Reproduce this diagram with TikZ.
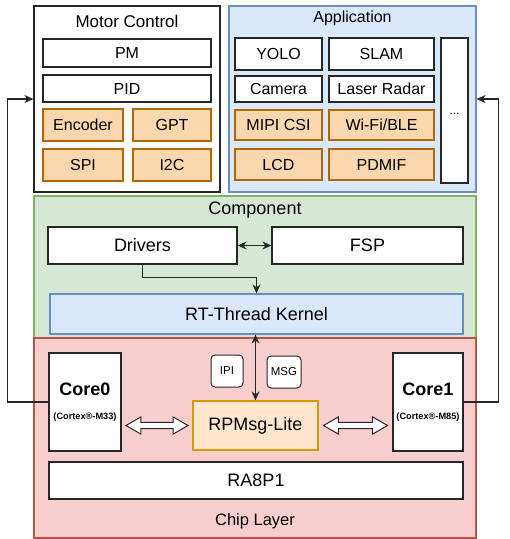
\documentclass[tikz,border=0pt]{standalone}
\usepackage{fontspec}
\setmainfont{Liberation Sans}
\usetikzlibrary{shapes.arrows,calc,arrows.meta}
\definecolor{orfill}{HTML}{FAD7AC}
\definecolor{ordraw}{HTML}{B46504}
\definecolor{lofill}{HTML}{FFE6CC}
\definecolor{lodraw}{HTML}{D79B00}
\definecolor{blfill}{HTML}{DAE8FC}
\definecolor{bldraw}{HTML}{6C8EBF}
\definecolor{grfill}{HTML}{D5E8D4}
\definecolor{grdraw}{HTML}{82B366}
\definecolor{rdfill}{HTML}{F8CECC}
\definecolor{rddraw}{HTML}{B85450}
\begin{document}
\begin{tikzpicture}[x=1pt,y=-1pt,
  base/.style={draw, line width=1.2pt, inner sep=0pt, align=center},
  wbox/.style={base, fill=white, draw=black!85, font=\fontsize{16}{19}\selectfont},
  obox/.style={base, fill=orfill, draw=ordraw, font=\fontsize{16}{19}\selectfont},
  wbig/.style={wbox, font=\fontsize{18}{21}\selectfont},
  outerw/.style={base, fill=white, draw=black!85},
  outerb/.style={base, fill=blfill, draw=bldraw},
  outerg/.style={base, fill=grfill, draw=grdraw},
  outerr/.style={base, fill=rdfill, draw=rddraw},
  kbox/.style={base, fill=blfill, draw=bldraw, font=\fontsize{18}{21}\selectfont},
  rpbox/.style={base, fill=lofill, draw=lodraw, font=\fontsize{18}{21}\selectfont},
  tagbox/.style={base, fill=white, draw=black!85, rounded corners=4pt, line width=1pt, font=\fontsize{11.5}{13}\selectfont},
  title/.style={inner sep=0pt, font=\fontsize{17}{20}\selectfont},
  conn/.style={line width=1.1pt, draw=black!85},
  tip/.style={-{Stealth[length=9pt,width=8pt]}},
  tips/.style={{Stealth[length=9pt,width=8pt]}-{Stealth[length=9pt,width=8pt]}},
  harrow/.style={double arrow, draw=black!85, fill=white, line width=1pt, inner sep=2.6pt,
    minimum width=16pt, double arrow tip angle=60, double arrow head extend=5.5pt},
]
\useasboundingbox (0,0) rectangle (510,539);

% ---- Motor Control ----
\node[outerw, minimum width=186, minimum height=186] (motor) at (127,99) {};
\node[title] (motortitle) at (127,21) {Motor Control};
\node[wbox, minimum width=168, minimum height=28] (pm) at (127,53) {PM};
\node[wbox, minimum width=168, minimum height=27] (pid) at (127,88.5) {PID};
\node[obox, minimum width=80, minimum height=32] (enc) at (83,125) {Encoder};
\node[obox, minimum width=78, minimum height=32] (gpt) at (172,125) {GPT};
\node[obox, minimum width=80, minimum height=32] (spi) at (83,165) {SPI};
\node[obox, minimum width=78, minimum height=32] (i2c) at (172,165) {I2C};

% ---- Application ----
\node[outerb, minimum width=247, minimum height=186] (app) at (352.5,99) {};
\node[title, font=\fontsize{16}{19}\selectfont] (apptitle) at (352.5,18) {Application};
\node[wbox, minimum width=87, minimum height=32] (yolo) at (278.5,54) {YOLO};
\node[wbox, minimum width=105, minimum height=32] (slam) at (381.5,54) {SLAM};
\node[wbox, minimum width=87, minimum height=26] (camera) at (278.5,89) {Camera};
\node[wbox, minimum width=105, minimum height=26] (laser) at (381.5,89) {Laser Radar};
\node[obox, minimum width=87, minimum height=30] (mipi) at (278.5,125) {MIPI CSI};
\node[obox, minimum width=105, minimum height=30] (wifi) at (381.5,125) {Wi-Fi/BLE};
\node[obox, minimum width=87, minimum height=31] (lcd) at (278.5,164.5) {LCD};
\node[obox, minimum width=105, minimum height=31] (pdmif) at (381.5,164.5) {PDMIF};
\node[wbox, minimum width=27, minimum height=145] (dots) at (454.5,110.5) {};
\node[inner sep=0pt, font=\fontsize{12}{14}\selectfont] (dotst) at (454.5,114) {...};

% ---- Component ----
\node[outerg, minimum width=442, minimum height=142] (comp) at (255,267) {};
\node[title, font=\fontsize{18}{21}\selectfont] (comptitle) at (255,210) {Component};
\node[wbig, minimum width=189, minimum height=37] (drivers) at (142.5,245.5) {Drivers};
\node[wbig, minimum width=191, minimum height=37] (fsp) at (367.5,245.5) {FSP};
\node[kbox, minimum width=413, minimum height=40] (kernel) at (256.5,314) {RT-Thread Kernel};

% ---- Chip Layer ----
\node[outerr, minimum width=442, minimum height=200] (chip) at (255,438) {};
\node[title, font=\fontsize{16.5}{19}\selectfont] (chiptitle) at (255,521) {Chip Layer};
\node[wbox, minimum width=72, minimum height=98] (core0) at (85,402) {};
\node[inner sep=0pt, font=\fontsize{18}{21}\selectfont\bfseries] (core0t) at (85,389) {Core0};
\node[inner sep=0pt, font=\fontsize{9.2}{11}\selectfont\bfseries] (core0s) at (85,417) {(Cortex®-M33)};
\node[wbox, minimum width=70, minimum height=98] (core1) at (428,402) {};
\node[inner sep=0pt, font=\fontsize{18}{21}\selectfont\bfseries] (core1t) at (428,389) {Core1};
\node[inner sep=0pt, font=\fontsize{9.2}{11}\selectfont\bfseries] (core1s) at (428,417) {(Cortex®-M85)};
\node[rpbox, minimum width=125, minimum height=49] (rpmsg) at (255.5,425.5) {RPMsg-Lite};
\node[wbig, minimum width=414, minimum height=37] (ra) at (256,480.5) {RA8P1};
\node[tagbox, minimum width=32, minimum height=32] (ipi) at (227,371) {IPI};
\node[tagbox, minimum width=34, minimum height=32] (msg) at (284,372) {MSG};

% hollow double arrows
\node[harrow, minimum height=62] (h0) at ($(core0.east |- rpmsg.west)!0.5!(rpmsg.west)$) {};
\node[harrow, minimum height=64] (h1) at ($(rpmsg.east)!0.5!(core1.west |- rpmsg.east)$) {};

% ---- connectors ----
\draw[conn, tips] (drivers.east) -- (fsp.west);
\draw[conn, tip] (drivers.south) -- ++(0,13) -| (kernel.north);
\draw[conn, tips] (rpmsg.north) -- (rpmsg.north |- kernel.south);
\draw[conn, tip] (core0.west) -- ++(-41,0) |- (motor.west);
\draw[conn, tip] (core1.east) -- ++(35,0) |- (app.east);
\end{tikzpicture}
\end{document}
